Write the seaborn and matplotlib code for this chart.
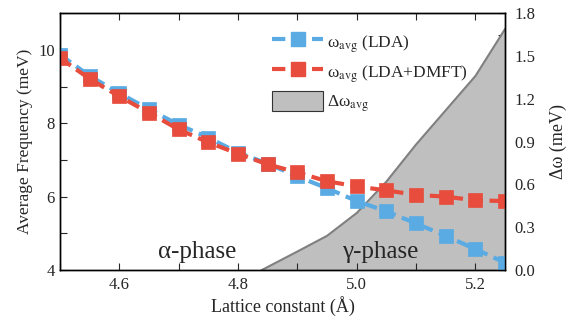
import numpy as np
import pandas as pd
import matplotlib
matplotlib.use("Agg")
import matplotlib.pyplot as plt
import seaborn as sns
from matplotlib.ticker import MultipleLocator, FormatStrFormatter
from matplotlib.patches import Patch
from matplotlib.lines import Line2D

# ---- data ----
lattice = [4.50, 4.55, 4.60, 4.65, 4.70, 4.75, 4.80, 4.85,
           4.90, 4.95, 5.00, 5.05, 5.10, 5.15, 5.20, 5.25]
omega_lda = [9.87, 9.29, 8.82, 8.38, 7.96, 7.61, 7.20, 6.90,
             6.55, 6.23, 5.88, 5.60, 5.27, 4.93, 4.57, 4.20]
omega_dmft = [9.78, 9.21, 8.73, 8.29, 7.83, 7.48, 7.17, 6.88,
              6.66, 6.42, 6.28, 6.17, 6.05, 6.00, 5.90, 5.88]
delta_x = [4.84, 4.90, 4.95, 5.00, 5.05, 5.10, 5.15, 5.20, 5.25]
delta_omega = [0.0, 0.13, 0.24, 0.40, 0.62, 0.88, 1.12, 1.36, 1.69]

sns.set_style("ticks")
plt.rcParams["font.family"] = ["Liberation Serif", "DejaVu Serif"]
plt.rcParams["mathtext.fontset"] = "stix"

blue = "#5aabe3"
red = "#e74c3c"

fig = plt.figure(figsize=(5.76, 3.2), dpi=100)
ax = fig.add_axes([0.104, 0.156, 0.773, 0.803])
ax2 = ax.twinx()
ax.set_zorder(ax2.get_zorder() + 1)
ax.patch.set_visible(False)

# delta fill on right axis
ax2.fill_between(delta_x, 0, delta_omega, facecolor="#bfbfbf", edgecolor="none")
sns.lineplot(x=delta_x, y=delta_omega, ax=ax2, color="#808080", linewidth=1.5)
ax2.set_ylim(0, 1.8)
ax2.yaxis.set_major_locator(MultipleLocator(0.3))
ax2.yaxis.set_minor_locator(MultipleLocator(0.15))
ax2.yaxis.set_major_formatter(FormatStrFormatter("%.1f"))
ax2.set_ylabel("Δω (meV)", fontsize=13, rotation=90, labelpad=10)

df = pd.DataFrame({"x": lattice, "lda": omega_lda, "dmft": omega_dmft})
line_kw = dict(marker="s", markersize=10.5, linewidth=3.0,
               linestyle=(0, (3.2, 1.6)), clip_on=True)
sns.lineplot(data=df, x="x", y="lda", ax=ax, color=blue,
             markeredgecolor=blue, markeredgewidth=0.5, **line_kw)
sns.lineplot(data=df, x="x", y="dmft", ax=ax, color=red,
             markeredgecolor=red, markeredgewidth=0.5, **line_kw)

ax.set_xlim(4.5, 5.25)
ax.set_ylim(4, 11)
ax.xaxis.set_major_locator(MultipleLocator(0.2))
ax.xaxis.set_minor_locator(MultipleLocator(0.1))
ax.yaxis.set_major_locator(MultipleLocator(2))
ax.yaxis.set_minor_locator(MultipleLocator(1))
ax.xaxis.set_major_formatter(FormatStrFormatter("%.1f"))
ax.set_xlabel("Lattice constant (Å)", fontsize=13, labelpad=2)
ax.set_ylabel("Average Frequency (meV)", fontsize=12.5, labelpad=4)

for a in (ax, ax2):
    a.tick_params(which="both", direction="in", labelsize=12, width=0.8)
    a.tick_params(which="major", length=5)
    a.tick_params(which="minor", length=5)
    for s in a.spines.values():
        s.set_linewidth(1.0)
        s.set_color("black")
ax.tick_params(axis="y", which="both", right=False)
ax2.tick_params(axis="y", which="both", left=False, pad=7)
ax.tick_params(axis="x", which="both", top=True, pad=5)

ax.text(4.731, 4.33, "α-phase", fontsize=18, ha="center", va="baseline")
ax.text(5.04, 4.33, "γ-phase", fontsize=18, ha="center", va="baseline")

handles = [
    Line2D([], [], color=blue, marker="s", markersize=10.5, linewidth=3.0,
           linestyle=(0, (3.2, 1.6)), markeredgecolor=blue),
    Line2D([], [], color=red, marker="s", markersize=10.5, linewidth=3.0,
           linestyle=(0, (3.2, 1.6)), markeredgecolor=red),
    Patch(facecolor="#bfbfbf", edgecolor="#333333", linewidth=0.8),
]
labels = ["ω$_{\\mathrm{avg}}$ (LDA)",
          "ω$_{\\mathrm{avg}}$ (LDA+DMFT)",
          "Δω$_{\\mathrm{avg}}$"]
ax.legend(handles, labels, loc="upper left", bbox_to_anchor=(0.45, 0.975),
          frameon=False, fontsize=12.5, handlelength=2.9, handleheight=1.35,
          labelspacing=0.4, handletextpad=0.25, borderaxespad=0.3)

fig.savefig("out.png", dpi=100)
